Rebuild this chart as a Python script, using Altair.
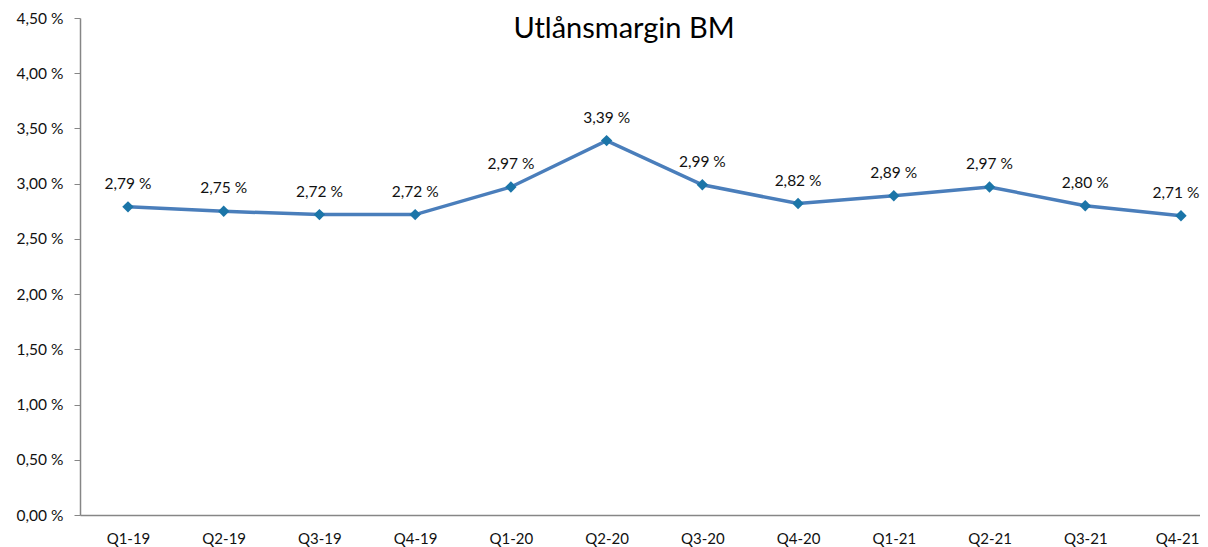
import altair as alt
import pandas as pd

quarters = ["Q1-19", "Q2-19", "Q3-19", "Q4-19", "Q1-20", "Q2-20",
            "Q3-20", "Q4-20", "Q1-21", "Q2-21", "Q3-21", "Q4-21"]
margin = [2.79, 2.75, 2.72, 2.72, 2.97, 3.39, 2.99, 2.82, 2.89, 2.97, 2.80, 2.71]
y_ticks = [0, 0.5, 1.0, 1.5, 2.0, 2.5, 3.0, 3.5, 4.0, 4.5]

df = pd.DataFrame({"q": quarters, "v": margin})
df["lbl"] = [f"{v:.2f}".replace(".", ",") + " %" for v in margin]
last_q = quarters[-1]

FONT = "Lato"
FS = 15
x = alt.X("q:N", sort=quarters, title=None,
          scale=alt.Scale(type="point", padding=0.35, align=0.716),
          axis=alt.Axis(labelAngle=0, ticks=False, labelPadding=16,
                        labelFlush=20, labelFlushOffset=18,
                        domainColor="#868686", domainWidth=1.5, labelFontSize=FS,
                        labelColor="#111111", labelFont=FONT))
y = alt.Y("v:Q", title=None,
          scale=alt.Scale(domain=[0, 4.5], nice=False, zero=True),
          axis=alt.Axis(values=y_ticks, grid=False, tickSize=6, tickColor="#868686",
                        domainColor="#868686", domainWidth=1.5, labelPadding=11,
                        labelFontSize=FS + 0.5, labelColor="#111111", labelFont=FONT,
                        labelExpr="replace(format(datum.value, '.2f'), '.', ',') + ' %'"))

base = alt.Chart(df).encode(x=x, y=y)
line = base.mark_line(color="#4A7EBB", strokeWidth=3.5)
pts = base.mark_point(shape="diamond", filled=True, size=130, color="#1B75A8", opacity=1)
txt = base.mark_text(dy=-23, fontSize=FS + 0.5, font=FONT, color="#111111").encode(
    text="lbl:N").transform_filter(alt.datum.q != last_q)
txt_last = base.mark_text(dy=-23, dx=-5, fontSize=FS + 0.5, font=FONT, color="#111111").encode(
    text="lbl:N").transform_filter(alt.datum.q == last_q)

chart = (line + pts + txt + txt_last).properties(
    width=1120, height=497,
    title=alt.TitleParams("Utlånsmargin BM", fontSize=29, font=FONT, fontWeight="normal",
                          color="#000000", anchor="middle", offset=-33, dx=-16),
    autosize=alt.AutoSizeParams(type="none"),
    padding={"left": 72, "top": 10, "right": 0, "bottom": 45},
).configure_view(stroke=None)

chart.save("out.html", embed_options={"renderer": "svg", "actions": False})
